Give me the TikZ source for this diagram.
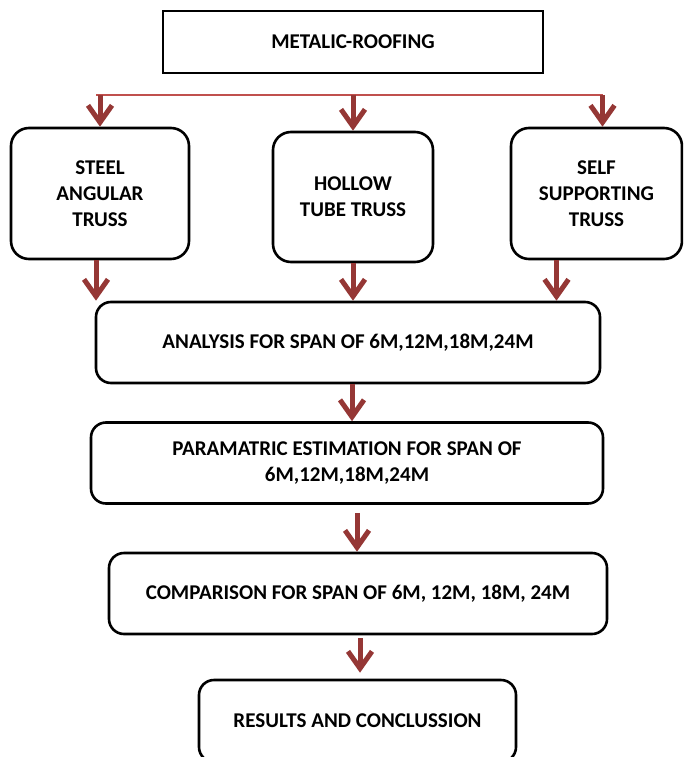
\documentclass[tikz,border=0pt]{standalone}
\usepackage{fontspec}
\setmainfont{Carlito}
\usepackage{xcolor}
\usetikzlibrary{arrows.meta}

\definecolor{flowred}{RGB}{149,55,53}
\definecolor{busred}{RGB}{192,80,77}

\begin{document}
\begin{tikzpicture}[
  x=1pt, y=-1pt,
  >={Straight Barb[length=17pt,width=24pt]},
  roofbox/.style={draw, line width=2.6pt, align=center,
    minimum width=380pt, minimum height=62pt,
    font=\bfseries\fontsize{21}{26}\selectfont},
  trussbox/.style={draw, line width=2.6pt, rounded corners=18pt, align=center,
    minimum height=131pt, font=\bfseries\fontsize{21}{26}\selectfont},
  stagebox/.style={draw, line width=2.6pt, rounded corners=15pt, align=center,
    minimum height=81pt, font=\bfseries\fontsize{21}{26}\selectfont},
  flow/.style={->, draw=flowred, line width=5pt},
  bus/.style={draw=busred, line width=2pt}
]
  \useasboundingbox (0,0) rectangle (683,757);
  \clip (0,0) rectangle (683,757);

  \node[roofbox] (roof) at (353,42) {METALIC-ROOFING};
  \node[trussbox, minimum width=178pt] (steel) at (100,193.5) {STEEL\\ANGULAR\\TRUSS};
  \node[trussbox, minimum width=160pt, minimum height=130pt] (hollow) at (353,197) {HOLLOW\\TUBE TRUSS};
  \node[trussbox, minimum width=171pt] (self) at (596.5,193.5) {SELF\\SUPPORTING\\TRUSS};
  \node[stagebox, minimum width=504pt] (analysis) at (348,342.5) {ANALYSIS FOR SPAN OF 6M,12M,18M,24M};
  \node[stagebox, minimum width=512pt] (param) at (347,463) {PARAMATRIC ESTIMATION FOR SPAN OF\\6M,12M,18M,24M};
  \node[stagebox, minimum width=498pt] (compare) at (358,593.5) {COMPARISON FOR SPAN OF 6M, 12M, 18M, 24M};
  \node[stagebox, minimum width=317pt, minimum height=82pt] (results) at (357.5,721) {RESULTS AND CONCLUSSION};

  % branch line under the roof box
  \coordinate (busleft) at (96,95);
  \coordinate (busright) at (603,95);
  \draw[bus] (busleft) -- (busright);
  \draw[flow] (steel.north |- busleft) -- (steel.north);
  \draw[flow] (hollow.north |- busleft) -- (hollow.north);
  \draw[flow] ([xshift=6pt]self.north |- busright) -- ([xshift=6pt]self.north);

  \draw[flow] ([xshift=-4pt]steel.south) -- ([xshift=-4pt]steel.south |- analysis.north);
  \draw[flow] (hollow.south) -- (hollow.south |- analysis.north);
  \draw[flow] ([xshift=-40pt]self.south) -- ([xshift=-40pt]self.south |- analysis.north);

  \draw[flow] ([xshift=4pt]analysis.south) -- ([xshift=4pt]analysis.south |- param.north);
  \draw[flow, shorten <=8pt] ([xshift=10pt]param.south) -- ([xshift=10pt]param.south |- compare.north);
  \draw[flow, shorten <=3pt, shorten >=6pt] ([xshift=2pt]compare.south) -- ([xshift=2pt]compare.south |- results.north);
\end{tikzpicture}
\end{document}
